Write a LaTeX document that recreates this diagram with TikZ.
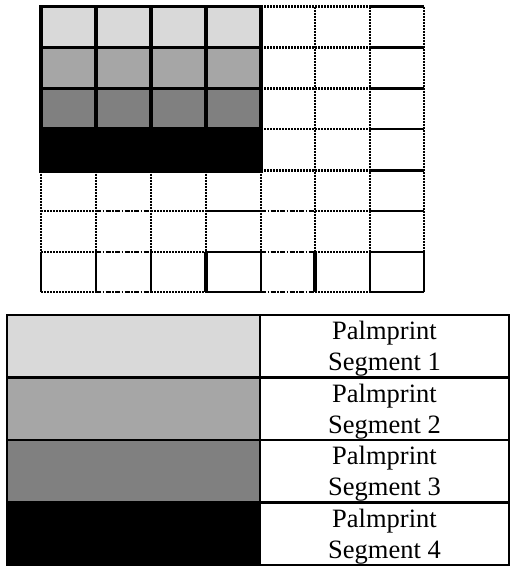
\documentclass[tikz,border=0pt]{standalone}
\usepackage{fontspec}
\setmainfont{Liberation Serif}
\definecolor{segA}{HTML}{D9D9D9}
\definecolor{segB}{HTML}{A6A6A6}
\definecolor{segC}{HTML}{808080}
\definecolor{segD}{HTML}{000000}
\tikzset{
  sol/.style={line width=2.4pt},
  solthick/.style={line width=3.2pt},
  dots/.style={line width=2.4pt, dash pattern=on 2pt off 1pt},
  dashdot/.style={line width=2.4pt, dash pattern=on 5pt off 1.5pt on 1.5pt off 1.5pt},
  blockline/.style={line width=3.4pt},
  cell/.style={draw, line width=2.2pt, minimum width=253pt, minimum height=62.5pt, inner sep=0pt, outer sep=0pt},
  tcell/.style={draw, line width=2.2pt, minimum width=249pt, minimum height=62.5pt, inner sep=0pt, outer sep=0pt},
  tlabel/.style={align=center, inner sep=0pt, font=\fontsize{26.5}{31}\selectfont},
}
\begin{document}
\begin{tikzpicture}[x=1pt,y=-1pt]
\useasboundingbox (0,0) rectangle (510,566);
% ---- upper grid: right part horizontal lines
\foreach \y in {6.5,47.5,88.5,129,170.5} {
  \draw[dots] (261,\y) -- (370,\y);
  \draw[sol] (370,\y) -- (424,\y);
}
\foreach \y in {211,252,292} {
  \draw[dots] (41,\y) -- (96,\y);
  \draw[dashdot] (96,\y) -- (151,\y);
  \draw[dots] (151,\y) -- (206,\y);
  \draw[sol] (206,\y) -- (261,\y);
  \draw[dashdot] (261,\y) -- (315,\y);
  \draw[dots] (315,\y) -- (370,\y);
  \draw[sol] (370,\y) -- (424,\y);
}
% verticals
\foreach \x in {41,96,151,206,261} { \draw[dots] (\x,170.5) -- (\x,252); }
\foreach \x in {315,370,424} { \draw[dots] (\x,6.5) -- (\x,252); }
\foreach \x in {41,96,151,261,370,424} { \draw[sol] (\x,252) -- (\x,292); }
\foreach \x in {206,315} { \draw[solthick] (\x,252) -- (\x,292); }
% ---- shaded block
\foreach \x in {41,96,151,206} {
  \fill[segA] (\x,6.5) rectangle ++(55,41);
  \fill[segB] (\x,47.5) rectangle ++(55,41);
  \fill[segC] (\x,88.5) rectangle ++(55,40.5);
}
\fill[segD] (41,129) rectangle (261,171.5);
\foreach \x in {96,151,206} { \draw[blockline] (\x,6.5) -- (\x,129); }
\foreach \y in {47.5,88.5,129} { \draw[blockline] (41,\y) -- (261,\y); }
\draw[blockline] (41,6.5) rectangle (261,171.5);
% ---- legend table
\node[cell, fill=segA] (c1) at (133.5,346.25) {};
\node[cell, fill=segB] (c2) at (133.5,408.75) {};
\node[cell, fill=segC] (c3) at (133.5,471.25) {};
\node[cell, fill=segD] (c4) at (133.5,533.75) {};
\node[tcell] (t1) at (384.5,346.25) {};
\node[tcell] (t2) at (384.5,408.75) {};
\node[tcell] (t3) at (384.5,471.25) {};
\node[tcell] (t4) at (384.5,533.75) {};
\node[tlabel] (l1) at ([yshift=-2.5pt]t1.center) {Palmprint\\Segment 1};
\node[tlabel] (l2) at ([yshift=-2.5pt]t2.center) {Palmprint\\Segment 2};
\node[tlabel] (l3) at ([yshift=-2.5pt]t3.center) {Palmprint\\Segment 3};
\node[tlabel] (l4) at ([yshift=-2.5pt]t4.center) {Palmprint\\Segment 4};
\end{tikzpicture}
\end{document}
